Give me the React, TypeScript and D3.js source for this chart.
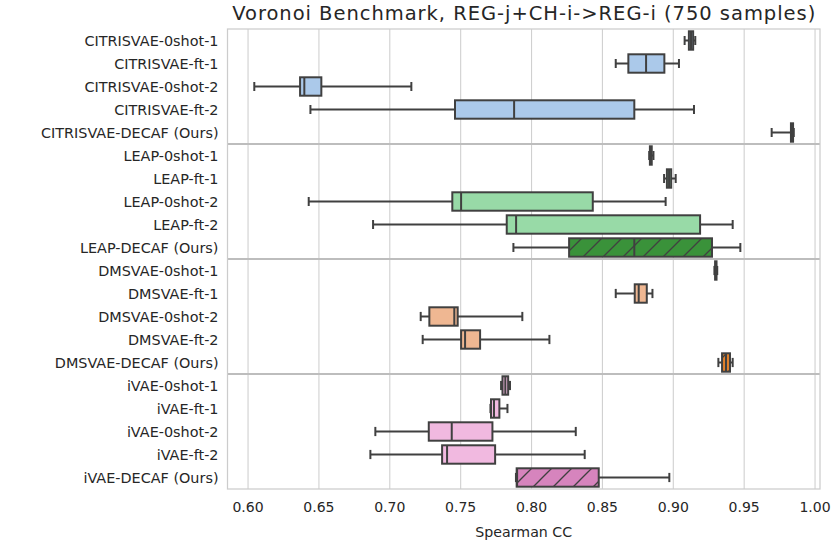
import * as d3 from "d3";

// row labels, top to bottom
const labels = [
  "CITRISVAE-0shot-1", "CITRISVAE-ft-1", "CITRISVAE-0shot-2", "CITRISVAE-ft-2", "CITRISVAE-DECAF (Ours)",
  "LEAP-0shot-1", "LEAP-ft-1", "LEAP-0shot-2", "LEAP-ft-2", "LEAP-DECAF (Ours)",
  "DMSVAE-0shot-1", "DMSVAE-ft-1", "DMSVAE-0shot-2", "DMSVAE-ft-2", "DMSVAE-DECAF (Ours)",
  "iVAE-0shot-1", "iVAE-ft-1", "iVAE-0shot-2", "iVAE-ft-2", "iVAE-DECAF (Ours)",
];

// box stats
const whiskerLo = [0.908, 0.8594, 0.6044, 0.644, 0.9694, 0.883, 0.8935, 0.6428, 0.6882, 0.7872, 0.929, 0.8594, 0.7218, 0.7232, 0.9318, 0.7785, 0.771, 0.6898, 0.6863, 0.789];
const q1 = [0.911, 0.8683, 0.6367, 0.746, 0.983, 0.8835, 0.8955, 0.7441, 0.7825, 0.8265, 0.9295, 0.8728, 0.7279, 0.7503, 0.9344, 0.7795, 0.7714, 0.7275, 0.7369, 0.7895];
const median = [0.9125, 0.8808, 0.6397, 0.7877, 0.9838, 0.884, 0.897, 0.7503, 0.7891, 0.8725, 0.93, 0.8756, 0.7455, 0.7531, 0.9372, 0.7815, 0.7735, 0.7437, 0.7404, 0.7898];
const q3 = [0.914, 0.8937, 0.6517, 0.8725, 0.9845, 0.8848, 0.8985, 0.8432, 0.9189, 0.9273, 0.9305, 0.8813, 0.7479, 0.7637, 0.94, 0.7835, 0.7773, 0.7724, 0.7743, 0.8474];
const whiskerHi = [0.9155, 0.904, 0.7152, 0.9146, 0.985, 0.886, 0.9017, 0.8946, 0.9419, 0.9473, 0.931, 0.8853, 0.7935, 0.8126, 0.9419, 0.7848, 0.783, 0.8312, 0.8375, 0.8972];

const fills = [
  "#abc9ea", "#abc9ea", "#abc9ea", "#abc9ea", "#3274a1",
  "#98daa7", "#98daa7", "#98daa7", "#98daa7", "#3a923a",
  "#efb792", "#efb792", "#efb792", "#efb792", "#e1812c",
  "#f1b9e0", "#f1b9e0", "#f1b9e0", "#f1b9e0", "#d684bd",
];
const hatched = labels.map((l) => l.includes("DECAF"));

const xTicks = [0.6, 0.65, 0.7, 0.75, 0.8, 0.85, 0.9, 0.95, 1.0];
const groupBreaks = [5, 10, 15];

const W = 835;
const H = 546;
const left = 227.5;
const right = 820;
const top = 29;
const bottom = 489;
const lineColor = "#404040";
const textColor = "#262626";
const font = "DejaVu Sans, sans-serif";

export default function App() {
  const x = d3.scaleLinear().domain([0.5855, 1.0035]).range([left, right]);
  const y = d3.scaleBand<string>().domain(labels).range([top, bottom]).padding(0);
  const bw = y.bandwidth();
  const boxH = bw * 0.8;
  const capH = bw * 0.4;

  return (
    <svg width={W} height={H} style={{ position: "absolute", left: 0, top: 0, background: "#fff" }}>
      <defs>
        <pattern id="hatch" patternUnits="userSpaceOnUse" width={20} height={20}>
          <line x1={-5} y1={25} x2={25} y2={-5} stroke={lineColor} strokeWidth={1.3} />
          <line x1={-25} y1={25} x2={5} y2={-5} stroke={lineColor} strokeWidth={1.3} />
          <line x1={15} y1={25} x2={45} y2={-5} stroke={lineColor} strokeWidth={1.3} />
        </pattern>
        <clipPath id="plot">
          <rect x={left} y={top} width={right - left} height={bottom - top} />
        </clipPath>
      </defs>

      {/* vertical grid */}
      {xTicks.map((t) => (
        <line key={t} x1={x(t)} x2={x(t)} y1={top} y2={bottom} stroke="#d0d0d0" strokeWidth={1.1} />
      ))}
      {/* group separators */}
      {groupBreaks.map((i) => (
        <line key={i} x1={left} x2={right} y1={y(labels[i])!} y2={y(labels[i])!} stroke="#bdbdbd" strokeWidth={2} />
      ))}

      <g clipPath="url(#plot)">
        {labels.map((l, i) => {
          const cy = y(l)! + bw / 2;
          const x0 = x(q1[i]);
          const x1 = x(q3[i]);
          return (
            <g key={l}>
              <line x1={x(whiskerLo[i])} x2={x0} y1={cy} y2={cy} stroke={lineColor} strokeWidth={2} />
              <line x1={x1} x2={x(whiskerHi[i])} y1={cy} y2={cy} stroke={lineColor} strokeWidth={2} />
              <line x1={x(whiskerLo[i])} x2={x(whiskerLo[i])} y1={cy - capH / 2} y2={cy + capH / 2} stroke={lineColor} strokeWidth={2} />
              <line x1={x(whiskerHi[i])} x2={x(whiskerHi[i])} y1={cy - capH / 2} y2={cy + capH / 2} stroke={lineColor} strokeWidth={2} />
              <rect x={x0} y={cy - boxH / 2} width={x1 - x0} height={boxH} fill={fills[i]} />
              {hatched[i] && <rect x={x0} y={cy - boxH / 2} width={x1 - x0} height={boxH} fill="url(#hatch)" />}
              <rect x={x0} y={cy - boxH / 2} width={x1 - x0} height={boxH} fill="none" stroke={lineColor} strokeWidth={2} />
              <line x1={x(median[i])} x2={x(median[i])} y1={cy - boxH / 2} y2={cy + boxH / 2} stroke={lineColor} strokeWidth={2} />
            </g>
          );
        })}
      </g>

      {/* frame */}
      <rect x={left} y={top} width={right - left} height={bottom - top} fill="none" stroke="#cccccc" strokeWidth={1.25} />

      {/* y labels */}
      {labels.map((l) => (
        <text key={l} x={left - 9} y={y(l)! + bw / 2} dy="0.35em" textAnchor="end" fontSize={14.4} fontFamily={font} fill={textColor}>
          {l}
        </text>
      ))}

      {/* x ticks */}
      {xTicks.map((t) => (
        <text key={t} x={x(t)} y={bottom + 23} textAnchor="middle" fontSize={14} fontFamily={font} fill={textColor}>
          {d3.format(".2f")(t)}
        </text>
      ))}
      <text x={(left + right) / 2} y={bottom + 48} textAnchor="middle" fontSize={14.2} fontFamily={font} fill={textColor}>
        Spearman CC
      </text>

      <text x={(left + right) / 2} y={20} textAnchor="middle" fontSize={19.5} fontFamily={font} fill={textColor} textLength={583} lengthAdjust="spacing">
        Voronoi Benchmark, REG-j+CH-i-&gt;REG-i (750 samples)
      </text>
    </svg>
  );
}
